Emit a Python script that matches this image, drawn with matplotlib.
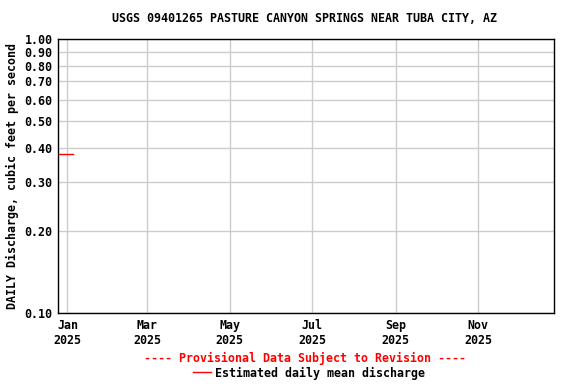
import matplotlib
matplotlib.use("Agg")
import matplotlib.pyplot as plt
import matplotlib.dates as mdates
from matplotlib.ticker import FixedLocator, NullLocator
from matplotlib.lines import Line2D
import datetime as dt

# data
dates = [dt.date(2024, 12, 25) + dt.timedelta(days=i) for i in range(12)]
flow = [0.38] * 12
yticks = [0.10, 0.20, 0.30, 0.40, 0.50, 0.60, 0.70, 0.80, 0.90, 1.00]
xticks = [dt.date(2025, m, 1) for m in (1, 3, 5, 7, 9, 11)]
title = "USGS 09401265 PASTURE CANYON SPRINGS NEAR TUBA CITY, AZ"

plt.rcParams['font.family'] = 'DejaVu Sans Mono'
plt.rcParams['font.weight'] = 'bold'
plt.rcParams['axes.labelweight'] = 'bold'
fs = 8.4

fig = plt.figure(figsize=(5.76, 3.84), dpi=100)
ax = fig.add_axes([58 / 576, 1 - 313 / 384, (554 - 58) / 576, (313 - 39) / 384])

ax.plot(dates, flow, color='red', linewidth=1)

ax.set_yscale('log')
ax.set_ylim(0.1, 1.0)
ax.yaxis.set_major_locator(FixedLocator(yticks))
ax.yaxis.set_minor_locator(NullLocator())
ax.set_yticklabels(["%.2f" % v for v in yticks])

ax.set_xlim(dt.date(2024, 12, 25), dt.date(2025, 12, 27))
ax.xaxis.set_major_locator(FixedLocator([mdates.date2num(d) for d in xticks]))
ax.xaxis.set_major_formatter(mdates.DateFormatter('%b\n%Y'))

ax.grid(True, color='#cccccc', linewidth=1)
ax.set_axisbelow(True)
ax.tick_params(length=0, labelsize=fs, pad=4)
for s in ax.spines.values():
    s.set_linewidth(1)

ax.set_ylabel("DAILY Discharge, cubic feet per second", fontsize=fs, labelpad=4)
fig.text(305 / 576, 1 - 19 / 384, title, ha='center', va='center', fontsize=fs)
fig.text(305 / 576, 1 - 358 / 384, "---- Provisional Data Subject to Revision ----",
         ha='center', va='center', fontsize=fs, color='red')
fig.text(215 / 576, 1 - 373 / 384, "Estimated daily mean discharge",
         ha='left', va='center', fontsize=fs)
fig.add_artist(Line2D([193 / 576, 211 / 576], [1 - 372 / 384, 1 - 372 / 384],
                      color='red', linewidth=1))

fig.savefig("out.png", dpi=100)
